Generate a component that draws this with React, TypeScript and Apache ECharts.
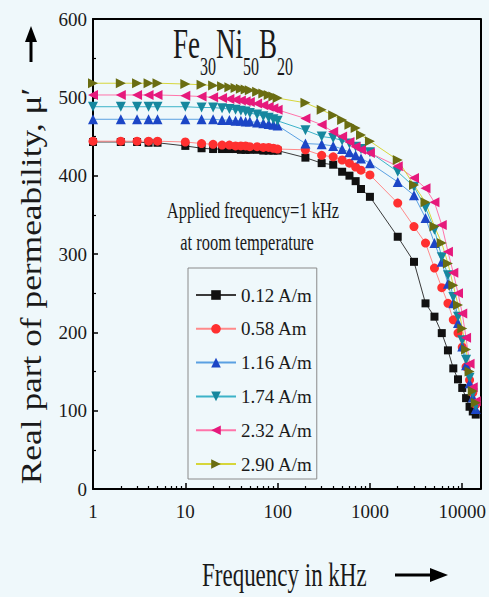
import React, { useEffect, useRef } from "react";
import * as echarts from "echarts";

// Frequency (kHz), shared by every series
const freqKHz = [
  1, 2, 3, 4, 5,
  10, 15, 20, 25, 30, 35, 40, 45, 50, 60, 70, 80, 90, 100,
  200, 300, 400, 500, 600, 700, 800, 1000,
  2000, 3000, 4000, 5000, 6000, 7000, 8000, 9000, 10000, 11000, 12000, 13000, 14000,
];

const seriesNames = ["0.12 A/m", "0.58 Am", "1.16 A/m", "1.74 A/m", "2.32 A/m", "2.90 A/m"];

const mu012 = [
  443, 443, 443, 442, 442,
  438, 435, 434, 434, 434, 434, 433, 433, 433, 433, 432, 432, 432, 432,
  423, 416, 414, 405, 400, 393, 383, 373,
  322, 290, 237, 220, 199, 177, 154, 140, 129, 116, 105, 99, 95,
];
const mu058 = [
  444, 444, 444, 444, 444,
  443, 441, 440, 439, 439, 438, 438, 438, 437, 437, 436, 436, 435, 434,
  433, 426, 424, 420, 416, 411, 407, 401,
  365, 335, 314, 282, 257, 237, 216, 199, 181, 156, 139, 123, 108,
];
const mu116 = [
  472, 472, 472, 472, 472,
  472, 472, 472, 471, 471, 470, 470, 469, 469, 468, 467, 466, 465, 464,
  441, 440, 438, 434, 430, 426, 422, 416,
  392, 375, 346, 314, 290, 262, 237, 212, 182, 158, 135, 117, 102,
];
const mu174 = [
  488, 488, 488, 488, 488,
  488, 487, 487, 486, 485, 484, 483, 482, 480, 478, 476, 474, 472, 470,
  458, 450, 448, 445, 441, 437, 434, 430,
  405, 386, 359, 331, 296, 273, 245, 220, 190, 165, 142, 122, 106,
];
const mu232 = [
  503, 503, 503, 503, 503,
  502, 501, 500, 499, 498, 497, 496, 495, 494, 492, 490, 488, 486, 484,
  473, 465, 456, 450, 443, 437, 433, 429,
  412, 397, 384, 366, 337, 303, 276, 250, 224, 193, 160, 130, 112,
];
const mu290 = [
  518, 518, 518, 518, 518,
  517, 516, 515, 514, 513, 512, 511, 510, 509, 507, 505, 503, 501, 499,
  493, 484, 477, 471, 465, 461, 452, 444,
  420, 388, 366, 335, 314, 288, 260, 235, 205, 178, 150, 125, 110,
];

const xMajorTicks = [1, 10, 100, 1000, 10000];
const xMinorTicks = [
  2, 3, 4, 5, 6, 7, 8, 9,
  20, 30, 40, 50, 60, 70, 80, 90,
  200, 300, 400, 500, 600, 700, 800, 900,
  2000, 3000, 4000, 5000, 6000, 7000, 8000, 9000,
];
const xMaxKHz = 15700;

const FONT = '"Liberation Serif", "Times New Roman", serif';
const BG = "#eff8fb";
const TXT = "#1a1a1a";

const styles = [
  { symbol: "rect", rotate: 0, size: 8, marker: "#111111", line: "#3a3a3a" },
  { symbol: "circle", rotate: 0, size: 9, marker: "#ff3030", line: "#ff8a8a" },
  { symbol: "triangle", rotate: 0, size: 10, marker: "#1c46c6", line: "#5aa0e2" },
  { symbol: "triangle", rotate: 180, size: 10, marker: "#16879e", line: "#3cb2c8" },
  { symbol: "triangle", rotate: 90, size: 10, marker: "#e6197c", line: "#ff74aa" },
  { symbol: "triangle", rotate: -90, size: 10, marker: "#6a6d12", line: "#d6d63a" },
];

const allValues = [mu012, mu058, mu116, mu174, mu232, mu290];

export default function App() {
  const ref = useRef<HTMLDivElement>(null);

  useEffect(() => {
    document.body.style.margin = "0";
    document.body.style.background = BG;
    if (!ref.current) return;
    const chart = echarts.init(ref.current, undefined, { renderer: "svg" });
    const lg = Math.log10;

    const series = allValues.map((vals, i) => ({
      name: seriesNames[i],
      type: "line",
      xAxisIndex: 0,
      yAxisIndex: 0,
      data: vals.map((v, k) => [lg(freqKHz[k]), v]),
      symbol: styles[i].symbol,
      symbolSize: styles[i].size,
      symbolRotate: styles[i].rotate,
      showAllSymbol: true,
      itemStyle: { color: styles[i].marker },
      lineStyle: { color: styles[i].line, width: 1 },
    }));

    const option: any = {
      animation: false,
      backgroundColor: BG,
      grid: { left: 93, top: 19, width: 388, height: 470, containLabel: false },
      xAxis: [
        {
          type: "value",
          min: 0,
          max: lg(xMaxKHz),
          interval: 1,
          position: "bottom",
          axisLine: { show: true, onZero: false, lineStyle: { color: "#000", width: 2 } },
          axisTick: {
            show: true,
            inside: true,
            length: 6,
            customValues: xMajorTicks.map(lg),
            lineStyle: { color: "#000", width: 1.5 },
          },
          axisLabel: {
            customValues: xMajorTicks.map(lg),
            formatter: (v: number) =>
              Math.abs(v - Math.round(v)) < 1e-6 ? String(Math.pow(10, Math.round(v))) : "",
            fontSize: 19,
            fontFamily: FONT,
            color: TXT,
            margin: 13,
          },
          splitLine: { show: false },
        },
        {
          type: "value",
          min: 0,
          max: lg(xMaxKHz),
          position: "bottom",
          axisLine: { show: false, onZero: false },
          axisTick: {
            show: true,
            inside: true,
            length: 3,
            customValues: xMinorTicks.map(lg),
            lineStyle: { color: "#000", width: 1.2 },
          },
          axisLabel: { show: false },
          splitLine: { show: false },
        },
        {
          type: "value",
          min: 0,
          max: lg(xMaxKHz),
          position: "top",
          axisLine: { show: true, onZero: false, lineStyle: { color: "#000", width: 2 } },
          axisTick: { show: false },
          axisLabel: { show: false },
          splitLine: { show: false },
        },
      ],
      yAxis: [
        {
          type: "value",
          min: 0,
          max: 600,
          interval: 100,
          position: "left",
          axisLine: { show: true, onZero: false, lineStyle: { color: "#000", width: 2 } },
          axisTick: { show: true, inside: true, length: 5, lineStyle: { color: "#000", width: 1.5 } },
          minorTick: { show: true, splitNumber: 2, length: 3, lineStyle: { color: "#000", width: 1.2 } },
          axisLabel: { fontSize: 19, fontFamily: FONT, color: TXT, margin: 6 },
          splitLine: { show: false },
        },
        {
          type: "value",
          min: 0,
          max: 600,
          position: "right",
          axisLine: { show: true, onZero: false, lineStyle: { color: "#000", width: 2 } },
          axisTick: { show: false },
          axisLabel: { show: false },
          splitLine: { show: false },
        },
      ],
      legend: {
        orient: "vertical",
        left: 188,
        top: 268,
        padding: [17, 4, 5, 7],
        itemWidth: 40,
        itemHeight: 12,
        itemGap: 13.8,
        borderColor: "#8a8a8a",
        borderWidth: 1,
        textStyle: { fontSize: 19, lineHeight: 20, fontFamily: FONT, color: TXT },
        data: seriesNames,
      },
      graphic: [
        {
          type: "text",
          x: 173,
          y: 22,
          scaleY: 1.6,
          style: {
            text: "{a|Fe}{b|30}{a|Ni}{b|50}{a|B}{b|20}",
            fill: TXT,
            verticalAlign: "top",
            rich: {
              a: { fontSize: 27, lineHeight: 36, verticalAlign: "top", fontFamily: FONT, fill: TXT },
              b: { fontSize: 16, lineHeight: 36, verticalAlign: "bottom", fontFamily: FONT, fill: TXT },
            },
          },
        },
        {
          type: "text",
          x: 253,
          y: 211,
          scaleY: 1.35,
          style: {
            text: "Applied frequency=1 kHz",
            fontSize: 16.5,
            fontFamily: FONT,
            fill: TXT,
            align: "center",
            verticalAlign: "middle",
          },
        },
        {
          type: "text",
          x: 247,
          y: 243,
          scaleY: 1.35,
          style: {
            text: "at room temperature",
            fontSize: 16.5,
            fontFamily: FONT,
            fill: TXT,
            align: "center",
            verticalAlign: "middle",
          },
        },
        {
          type: "text",
          x: 31,
          y: 286,
          rotation: Math.PI / 2,
          scaleX: 1.22,
          style: {
            text: "Real part of permeability, \u03bc\u2032",
            fontSize: 29,
            fontFamily: FONT,
            fill: TXT,
            align: "center",
            verticalAlign: "middle",
          },
        },
        {
          type: "line",
          shape: { x1: 31, y1: 62, x2: 31, y2: 40 },
          style: { stroke: "#000", lineWidth: 3 },
        },
        {
          type: "polygon",
          shape: { points: [[25, 42], [37, 42], [31, 26]] },
          style: { fill: "#000" },
        },
        {
          type: "text",
          x: 202,
          y: 557,
          scaleY: 1.5,
          style: {
            text: "Frequency in kHz",
            fontSize: 23,
            fontFamily: FONT,
            fill: TXT,
            align: "left",
            verticalAlign: "top",
          },
        },
        {
          type: "line",
          shape: { x1: 395, y1: 575, x2: 434, y2: 575 },
          style: { stroke: "#000", lineWidth: 3 },
        },
        {
          type: "polygon",
          shape: { points: [[430, 568], [448, 575], [430, 582]] },
          style: { fill: "#000" },
        },
      ],
      series,
    };

    chart.setOption(option);
    return () => chart.dispose();
  }, []);

  return (
    <div
      ref={ref}
      style={{ position: "absolute", left: 0, top: 0, width: 489, height: 597, background: BG }}
    />
  );
}
